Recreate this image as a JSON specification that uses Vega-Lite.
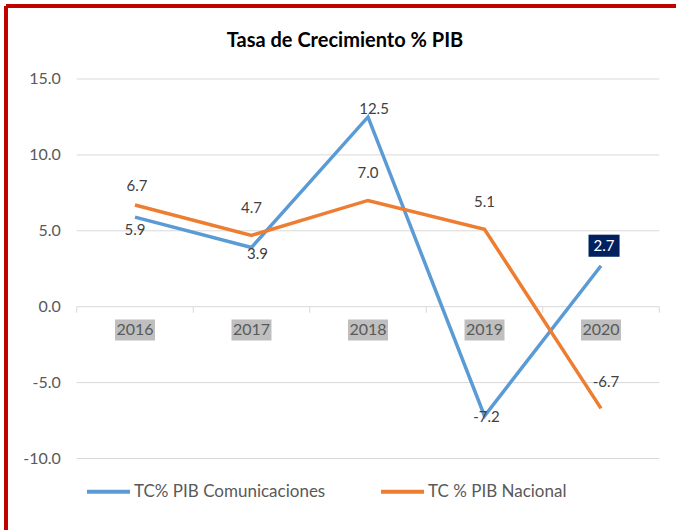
{
  "$schema": "https://vega.github.io/schema/vega-lite/v6.json",
  "width": 670,
  "height": 524,
  "autosize": {"type": "none"},
  "padding": {"left": 6, "top": 6, "right": 0, "bottom": 0},
  "background": "white",
  "config": {
    "view": {"stroke": null},
    "font": "Lato",
    "locale": {"number": {"decimal": ".", "thousands": ",", "grouping": [3], "currency": ["$", ""], "minus": "-"}}
  },
  "title": {"text": "Tasa de Crecimiento % PIB", "anchor": "middle", "frame": "group", "offset": -46, "fontSize": 20, "fontWeight": "bold", "color": "#000000", "font": "Lato", "dx": 4},
  "datasets": {
    "pib": [
      {"year": 2016, "series": "TC% PIB Comunicaciones", "value": 5.9},
      {"year": 2017, "series": "TC% PIB Comunicaciones", "value": 3.9},
      {"year": 2018, "series": "TC% PIB Comunicaciones", "value": 12.5},
      {"year": 2019, "series": "TC% PIB Comunicaciones", "value": -7.2},
      {"year": 2020, "series": "TC% PIB Comunicaciones", "value": 2.7},
      {"year": 2016, "series": "TC % PIB Nacional", "value": 6.7},
      {"year": 2017, "series": "TC % PIB Nacional", "value": 4.7},
      {"year": 2018, "series": "TC % PIB Nacional", "value": 7.0},
      {"year": 2019, "series": "TC % PIB Nacional", "value": 5.1},
      {"year": 2020, "series": "TC % PIB Nacional", "value": -6.7}
    ],
    "grid": [{"v": -10}, {"v": -5}, {"v": 0}, {"v": 5}, {"v": 10}, {"v": 15}],
    "bounds": [{"b": 2015.5}, {"b": 2016.5}, {"b": 2017.5}, {"b": 2018.5}, {"b": 2019.5}, {"b": 2020.5}]
  },
  "layer": [
    {
      "data": {"name": "grid"},
      "mark": {"type": "rule", "color": "#d9d9d9", "strokeWidth": 1},
      "encoding": {
        "y": {"field": "v", "type": "quantitative", "scale": {"domain": [-14.71, 19.809], "nice": false, "zero": false}, "axis": null},
        "x": {"datum": 2015.5, "type": "quantitative", "scale": {"domain": [2014.8927, 2020.6438], "nice": false, "zero": false}, "axis": null},
        "x2": {"datum": 2020.5}
      }
    },
    {
      "data": {"name": "grid"},
      "mark": {"type": "text", "align": "right", "baseline": "middle", "dx": -16, "fontSize": 16, "color": "#595959", "font": "Lato"},
      "encoding": {
        "y": {"field": "v", "type": "quantitative", "scale": {"domain": [-14.71, 19.809], "nice": false, "zero": false}, "axis": null},
        "x": {"datum": 2015.5, "type": "quantitative", "scale": {"domain": [2014.8927, 2020.6438], "nice": false, "zero": false}, "axis": null},
        "text": {"field": "v", "type": "quantitative", "format": ".1f"}
      }
    },
    {
      "data": {"name": "bounds"},
      "mark": {"type": "rule", "color": "#d9d9d9", "strokeWidth": 1},
      "encoding": {
        "x": {"field": "b", "type": "quantitative", "scale": {"domain": [2014.8927, 2020.6438], "nice": false, "zero": false}, "axis": null},
        "y": {"datum": 0, "type": "quantitative", "scale": {"domain": [-14.71, 19.809], "nice": false, "zero": false}, "axis": null},
        "y2": {"datum": -0.4}
      }
    },
    {
      "data": {"name": "grid"},
      "mark": {"type": "rule", "color": "#c00000", "strokeWidth": 3},
      "encoding": {
        "y": {"datum": 19.809, "type": "quantitative", "scale": {"domain": [-14.71, 19.809], "nice": false, "zero": false}, "axis": null},
        "x": {"datum": 2014.8927, "type": "quantitative", "scale": {"domain": [2014.8927, 2020.6438], "nice": false, "zero": false}, "axis": null},
        "x2": {"datum": 2020.6438}
      }
    },
    {
      "data": {"name": "grid"},
      "mark": {"type": "rule", "color": "#c00000", "strokeWidth": 3},
      "encoding": {
        "x": {"datum": 2014.8927, "type": "quantitative", "scale": {"domain": [2014.8927, 2020.6438], "nice": false, "zero": false}, "axis": null},
        "y": {"datum": -14.71, "type": "quantitative", "scale": {"domain": [-14.71, 19.809], "nice": false, "zero": false}, "axis": null},
        "y2": {"datum": 19.809}
      }
    },
    {
      "data": {"name": "pib"},
      "transform": [{"filter": "datum.series === 'TC % PIB Nacional'"}],
      "mark": {"type": "point", "shape": "M-1,0.635L1,0.635L1,1.685L-1,1.685Z", "filled": true, "color": "#bfbfbf", "opacity": 1, "size": 1600, "strokeWidth": 0},
      "encoding": {
        "x": {"field": "year", "type": "quantitative", "scale": {"domain": [2014.8927, 2020.6438], "nice": false, "zero": false}, "axis": null},
        "y": {"datum": 0, "type": "quantitative", "scale": {"domain": [-14.71, 19.809], "nice": false, "zero": false}, "axis": null}
      }
    },
    {
      "data": {"name": "pib"},
      "transform": [{"filter": "datum.series === 'TC % PIB Nacional'"}],
      "mark": {"type": "text", "dy": 23, "fontSize": 16, "color": "#595959", "font": "Lato", "align": "center", "baseline": "middle"},
      "encoding": {
        "x": {"field": "year", "type": "quantitative", "scale": {"domain": [2014.8927, 2020.6438], "nice": false, "zero": false}, "axis": null},
        "y": {"datum": 0, "type": "quantitative", "scale": {"domain": [-14.71, 19.809], "nice": false, "zero": false}, "axis": null},
        "text": {"field": "year", "type": "nominal"}
      }
    },
    {
      "data": {"name": "pib"},
      "transform": [{"filter": "datum.series === 'TC% PIB Comunicaciones'"}],
      "mark": {"type": "line", "strokeWidth": 3.5},
      "encoding": {
        "x": {"field": "year", "type": "quantitative", "scale": {"domain": [2014.8927, 2020.6438], "nice": false, "zero": false}, "axis": null},
        "y": {"field": "value", "type": "quantitative", "scale": {"domain": [-14.71, 19.809], "nice": false, "zero": false}, "axis": null},
        "color": {"field": "series", "type": "nominal",
          "scale": {"domain": ["TC% PIB Comunicaciones", "TC % PIB Nacional"], "range": ["#5b9bd5", "#ed7d31"]},
          "legend": {"orient": "none", "legendX": 79, "legendY": 462, "direction": "horizontal", "title": null, "symbolType": "stroke", "symbolStrokeWidth": 4, "symbolSize": 1849, "labelFontSize": 17, "labelColor": "#595959", "labelFont": "Lato", "labelOffset": 2, "labelLimit": 400, "columnPadding": 47, "padding": 0}}
      }
    },
    {
      "data": {"name": "pib"},
      "transform": [{"filter": "datum.series === 'TC % PIB Nacional'"}],
      "mark": {"type": "line", "strokeWidth": 3.5},
      "encoding": {
        "x": {"field": "year", "type": "quantitative", "scale": {"domain": [2014.8927, 2020.6438], "nice": false, "zero": false}, "axis": null},
        "y": {"field": "value", "type": "quantitative", "scale": {"domain": [-14.71, 19.809], "nice": false, "zero": false}, "axis": null},
        "color": {"field": "series", "type": "nominal", "scale": {"domain": ["TC% PIB Comunicaciones", "TC % PIB Nacional"], "range": ["#5b9bd5", "#ed7d31"]}}
      }
    },
    {
      "data": {"name": "pib"},
      "transform": [{"filter": "datum.series === 'TC% PIB Comunicaciones' && datum.year === 2020"}],
      "mark": {"type": "point", "shape": "M-0.78,-1.94L1.16,-1.94L1.16,-0.56L-0.78,-0.56Z", "filled": true, "color": "#002060", "opacity": 1, "size": 1024, "strokeWidth": 0},
      "encoding": {
        "x": {"field": "year", "type": "quantitative", "scale": {"domain": [2014.8927, 2020.6438], "nice": false, "zero": false}, "axis": null},
        "y": {"field": "value", "type": "quantitative", "scale": {"domain": [-14.71, 19.809], "nice": false, "zero": false}, "axis": null}
      }
    },
    {
      "data": {"name": "pib"},
      "layer": [
        {"transform": [{"filter": "datum.series === 'TC% PIB Comunicaciones' && datum.year === 2016"}], "mark": {"type": "text", "dy": 13, "fontSize": 15, "color": "#404040", "font": "Lato"}},
        {"transform": [{"filter": "datum.series === 'TC% PIB Comunicaciones' && datum.year === 2017"}], "mark": {"type": "text", "dx": 6, "dy": 7, "fontSize": 15, "color": "#404040", "font": "Lato"}},
        {"transform": [{"filter": "datum.series === 'TC% PIB Comunicaciones' && datum.year === 2018"}], "mark": {"type": "text", "dx": 6, "dy": -8, "fontSize": 15, "color": "#404040", "font": "Lato"}},
        {"transform": [{"filter": "datum.series === 'TC% PIB Comunicaciones' && datum.year === 2019"}], "mark": {"type": "text", "dx": 2, "dy": 1, "fontSize": 15, "color": "#404040", "font": "Lato"}},
        {"transform": [{"filter": "datum.series === 'TC% PIB Comunicaciones' && datum.year === 2020"}], "mark": {"type": "text", "dx": 3, "dy": -20, "fontSize": 15, "color": "#ffffff", "font": "Lato"}},
        {"transform": [{"filter": "datum.series === 'TC % PIB Nacional' && datum.year === 2016"}], "mark": {"type": "text", "dx": 2, "dy": -19, "fontSize": 15, "color": "#404040", "font": "Lato"}},
        {"transform": [{"filter": "datum.series === 'TC % PIB Nacional' && datum.year >= 2017 && datum.year <= 2019"}], "mark": {"type": "text", "dy": -27, "fontSize": 15, "color": "#404040", "font": "Lato"}},
        {"transform": [{"filter": "datum.series === 'TC % PIB Nacional' && datum.year === 2020"}], "mark": {"type": "text", "dx": 5, "dy": -26, "fontSize": 15, "color": "#404040", "font": "Lato"}}
      ],
      "encoding": {
        "x": {"field": "year", "type": "quantitative", "scale": {"domain": [2014.8927, 2020.6438], "nice": false, "zero": false}, "axis": null},
        "y": {"field": "value", "type": "quantitative", "scale": {"domain": [-14.71, 19.809], "nice": false, "zero": false}, "axis": null},
        "text": {"field": "value", "type": "quantitative", "format": ".1f"}
      }
    }
  ]
}
